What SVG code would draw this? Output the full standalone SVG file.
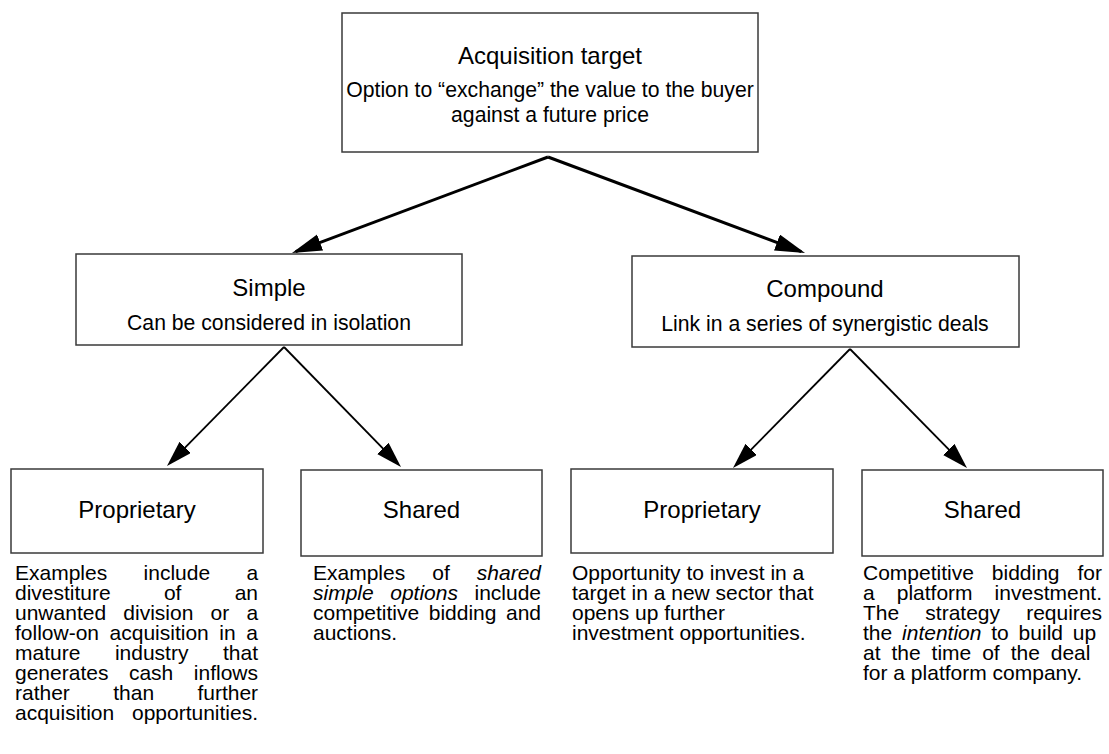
<svg xmlns="http://www.w3.org/2000/svg" width="1109" height="754" viewBox="0 0 1109 754">
<style>
.box{fill:#fff;stroke:#3a3a3a;stroke-width:1.5}
.h{font-family:"Liberation Sans",Arial,sans-serif;font-size:24px;fill:#000;text-anchor:middle}
.s{font-family:"Liberation Sans",Arial,sans-serif;font-size:21.2px;fill:#000;text-anchor:middle}
.b{font-family:"Liberation Sans",Arial,sans-serif;font-size:21px;fill:#000}
.i{font-style:italic}
.c1{fill:none;stroke:#000;stroke-width:3}
.c2{fill:none;stroke:#000;stroke-width:1.8}
</style>
<defs>
<marker id="a1" markerUnits="userSpaceOnUse" markerWidth="32" markerHeight="18" refX="26" refY="8.5" orient="auto">
<path d="M0,0 L30,8.5 L0,17 z" fill="#000"/>
</marker>
<marker id="a2" markerUnits="userSpaceOnUse" markerWidth="30" markerHeight="18" refX="22" refY="8" orient="auto">
<path d="M0,0 L26,8 L0,16 z" fill="#000"/>
</marker>
</defs>
<g id="connectors">
<line class="c1" x1="548" y1="157" x2="295.7" y2="251.6" marker-end="url(#a1)"/>
<line class="c1" x1="548" y1="157" x2="801.3" y2="251.6" marker-end="url(#a1)"/>
<line class="c2" x1="284" y1="347" x2="169.8" y2="463.1" marker-end="url(#a2)"/>
<line class="c2" x1="284" y1="347" x2="398.2" y2="464.1" marker-end="url(#a2)"/>
<line class="c2" x1="850" y1="349" x2="735.8" y2="465.1" marker-end="url(#a2)"/>
<line class="c2" x1="850" y1="349" x2="964.2" y2="465.1" marker-end="url(#a2)"/>
</g>
<g id="target">
<rect class="box" x="342" y="13" width="416" height="139"/>
<text class="h" x="550" y="64">Acquisition target</text>
<text class="s" x="550" y="97">Option to “exchange” the value to the buyer<tspan x="550" y="122">against a future price</tspan></text>
</g>
<g id="simple">
<rect class="box" x="76" y="254" width="386" height="91"/>
<text class="h" x="269" y="296">Simple</text>
<text class="s" x="269" y="330">Can be considered in isolation</text>
</g>
<g id="compound">
<rect class="box" x="632" y="256" width="387" height="91"/>
<text class="h" x="825" y="297">Compound</text>
<text class="s" x="825" y="331">Link in a series of synergistic deals</text>
</g>
<g id="simple-proprietary">
<rect class="box" x="11" y="469" width="252" height="84"/>
<text class="h" x="137" y="518">Proprietary</text>
<text class="b"><tspan x="15" y="580" word-spacing="30.5">Examples include a</tspan><tspan x="15" y="600" word-spacing="47.4">divestiture of an</tspan><tspan x="15" y="620" word-spacing="11.4">unwanted division or a</tspan><tspan x="15" y="640" word-spacing="4.7">follow-on acquisition in a</tspan><tspan x="15" y="660" word-spacing="28.7">mature industry that</tspan><tspan x="15" y="680" word-spacing="14.7">generates cash inflows</tspan><tspan x="15" y="700" word-spacing="37.5">rather than further</tspan><tspan x="15" y="720" word-spacing="11.9">acquisition opportunities.</tspan></text>
</g>
<g id="simple-shared">
<rect class="box" x="301" y="470" width="241" height="86"/>
<text class="h" x="421.5" y="518">Shared</text>
<text class="b"><tspan x="313" y="580" word-spacing="21.2">Examples of <tspan class="i">shared</tspan></tspan><tspan x="313" y="600" word-spacing="10.7"><tspan class="i">simple options</tspan> include</tspan><tspan x="313" y="620" word-spacing="3.7">competitive bidding and</tspan><tspan x="313" y="640">auctions.</tspan></text>
</g>
<g id="compound-proprietary">
<rect class="box" x="571" y="469" width="262" height="84"/>
<text class="h" x="702" y="518">Proprietary</text>
<text class="b"><tspan x="572" y="580">Opportunity to invest in a</tspan><tspan x="572" y="600">target in a new sector that</tspan><tspan x="572" y="620">opens up further</tspan><tspan x="572" y="640">investment opportunities.</tspan></text>
</g>
<g id="compound-shared">
<rect class="box" x="862" y="470" width="241" height="86"/>
<text class="h" x="982.5" y="518">Shared</text>
<text class="b"><tspan x="863" y="580" word-spacing="12.1">Competitive bidding for</tspan><tspan x="863" y="600" word-spacing="16.2">a platform investment.</tspan><tspan x="863" y="620" word-spacing="20.3">The strategy requires</tspan><tspan x="863" y="640" word-spacing="4">the <tspan class="i">intention</tspan> to build up</tspan><tspan x="863" y="660" word-spacing="5.1">at the time of the deal</tspan><tspan x="863" y="680">for a platform company.</tspan></text>
</g>
</svg>
